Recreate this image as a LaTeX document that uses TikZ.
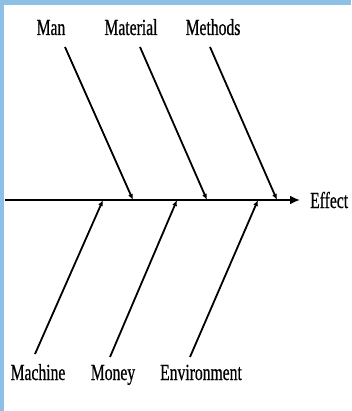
\documentclass[tikz,border=0pt]{standalone}
\usepackage{fontspec}
\newfontfamily\fishfont{Liberation Serif}[FakeStretch=0.68,FakeBold=0.6]
\usetikzlibrary{arrows.meta,positioning}
\definecolor{frameblue}{RGB}{140,192,228}
\tikzset{
  cause/.style={font=\fishfont\fontsize{23}{27}\selectfont,inner sep=1pt,anchor=base},
  bone/.style={line width=1.8pt,-{Latex[length=6pt,width=5pt]}},
  spine/.style={line width=2.6pt,-{Latex[length=10pt,width=9pt]}}
}
\begin{document}
\begin{tikzpicture}[x=1pt,y=-1pt]
% Frame
\useasboundingbox (0,0) rectangle (351,411);
\fill[frameblue] (0,0) rectangle (351,411);
\fill[white] (4,5) rectangle (352,412);

% Effect and spine
\node[cause,anchor=base west] (effect) at (309,208) {Effect};
\coordinate (tail) at (5,200);
\draw[spine,shorten >=9pt] (tail) -- (effect.west |- tail);

% Causes above
\node[cause] (man) at (51,35) {Man};
\node[cause] (material) at (131,35) {Material};
\node[cause] (methods) at (213,35) {Methods};
\coordinate (manA) at (65,47);
\coordinate (manB) at (133,200);
\coordinate (materialA) at (140,47);
\coordinate (materialB) at (207,200);
\coordinate (methodsA) at (210,47);
\coordinate (methodsB) at (277,200);
\draw[bone] (manA) -- (manB);
\draw[bone] (materialA) -- (materialB);
\draw[bone] (methodsA) -- (methodsB);

% Causes below
\node[cause] (machine) at (38,380) {Machine};
\node[cause] (money) at (113,380) {Money};
\node[cause] (environment) at (201,380) {Environment};
\coordinate (machineA) at (35,354);
\coordinate (machineB) at (103,200);
\coordinate (moneyA) at (110,357);
\coordinate (moneyB) at (177,200);
\coordinate (environmentA) at (190,357);
\coordinate (environmentB) at (258,200);
\draw[bone] (machineA) -- (machineB);
\draw[bone] (moneyA) -- (moneyB);
\draw[bone] (environmentA) -- (environmentB);
\end{tikzpicture}
\end{document}
